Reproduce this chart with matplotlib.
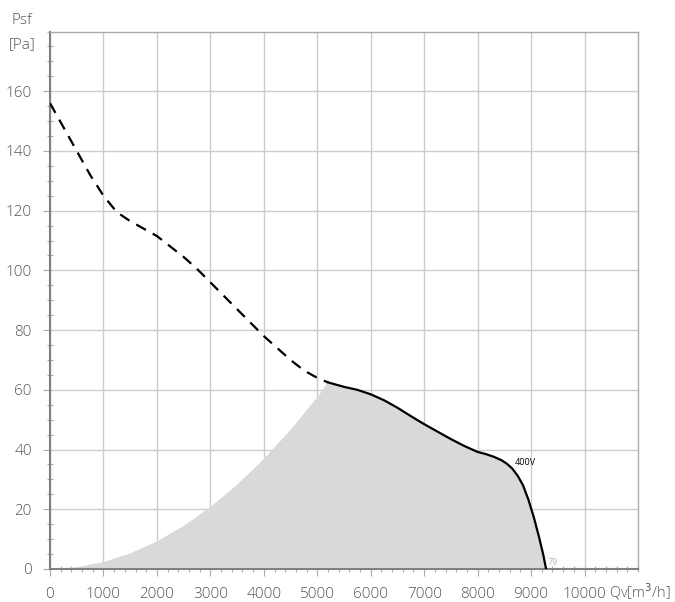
import matplotlib.pyplot as plt
import numpy as np

plt.rcParams['font.family'] = ['Open Sans', 'DejaVu Sans']

# dashed part of the fan curve (outside working range)
dash_q = [0, 250, 500, 750, 1000, 1250, 1500, 1750, 2000, 2250, 2500, 2750, 3000,
          3250, 3500, 3750, 4000, 4250, 4500, 4750, 5000, 5200]
dash_p = [156, 148, 140, 132, 125, 119.5, 116.5, 114, 111.5, 108, 104.5, 100.5, 96,
          91.5, 87, 82.5, 78, 74, 70, 66.5, 64, 62.5]

# solid part of the fan curve (400V)
fan_q = [5200, 5500, 5750, 6000, 6250, 6500, 6750, 7000, 7250, 7500, 7750, 8000,
         8150, 8300, 8450, 8550, 8650, 8750, 8850, 8950, 9050, 9150, 9230, 9280]
fan_p = [62.5, 61, 60, 58.5, 56.5, 54, 51.2, 48.5, 46, 43.5, 41.2, 39.2,
         38.5, 37.6, 36.4, 35.2, 33.6, 31.2, 28, 23.2, 17.4, 10.6, 4.6, 0]

# system curve bounding the grey area
sys_q = [0, 500, 1000, 1500, 2000, 2500, 3000, 3500, 4000, 4500, 5000, 5200]
sys_p = [0, 0.6, 2.3, 5.2, 9.2, 14.4, 20.7, 28.2, 36.8, 46.6, 57.5, 62.5]

x_ticks = [0, 1000, 2000, 3000, 4000, 5000, 6000, 7000, 8000, 9000, 10000]
y_ticks = [0, 20, 40, 60, 80, 100, 120, 140, 160]

fig = plt.figure(figsize=(6.75, 6.02), dpi=100)
ax = fig.add_axes([50/675, 33/602, 588/675, 537.5/602])

# grey working area
area_q = sys_q + fan_q[1:] + [0]
area_p = sys_p + fan_p[1:] + [0]
ax.fill(area_q, area_p, color='#d9d9d9', lw=0, zorder=1)

ax.plot(dash_q, dash_p, color='black', lw=1.6, dashes=(5, 3.5), zorder=3)
ax.plot(fan_q, fan_p, color='black', lw=1.6, zorder=3, solid_joinstyle='round')

ax.set_xlim(0, 11000)
ax.set_ylim(0, 180)
ax.set_xticks(x_ticks)
ax.set_yticks(y_ticks)
ax.set_xticks(np.arange(0, 11001, 200), minor=True)
ax.set_yticks(np.arange(0, 181, 5), minor=True)
ax.grid(True, which='major', color='#cccccc', lw=1, zorder=0)
ax.set_axisbelow(True)

for s in ['left', 'bottom']:
    ax.spines[s].set_color('#808080')
    ax.spines[s].set_linewidth(1.5)
for s in ['top', 'right']:
    ax.spines[s].set_color('#aaaaaa')
    ax.spines[s].set_linewidth(1)

ax.tick_params(which='major', length=5, color='#aaaaaa', labelsize=11,
               labelcolor='#555555', direction='out', pad=8)
for lab in ax.get_xticklabels() + ax.get_yticklabels():
    lab.set_fontweight('light')
ax.tick_params(which='minor', length=5, color='#aaaaaa', direction='inout', width=0.8)
ax.tick_params(axis='x', which='minor', length=4)

fig.text(22/675, 1 - 20/602, 'Psf', ha='center', va='center', fontsize=11,
         color='#555555', fontweight='light')
fig.text(22/675, 1 - 45/602, '[Pa]', ha='center', va='center', fontsize=11,
         color='#555555', fontweight='light')
fig.text(671/675, 1 - 592/602, 'Qv[m$^3$/h]', ha='right', va='center', fontsize=10.5,
         color='#555555', fontweight='light')

ax.text(8690, 35.5, '400V', fontsize=6.5, color='black', ha='left', va='center')
ax.text(9300, 2.3, '79', fontsize=6.5, color='#bbbbbb', ha='left', va='center')

plt.savefig('out.png', dpi=100)
